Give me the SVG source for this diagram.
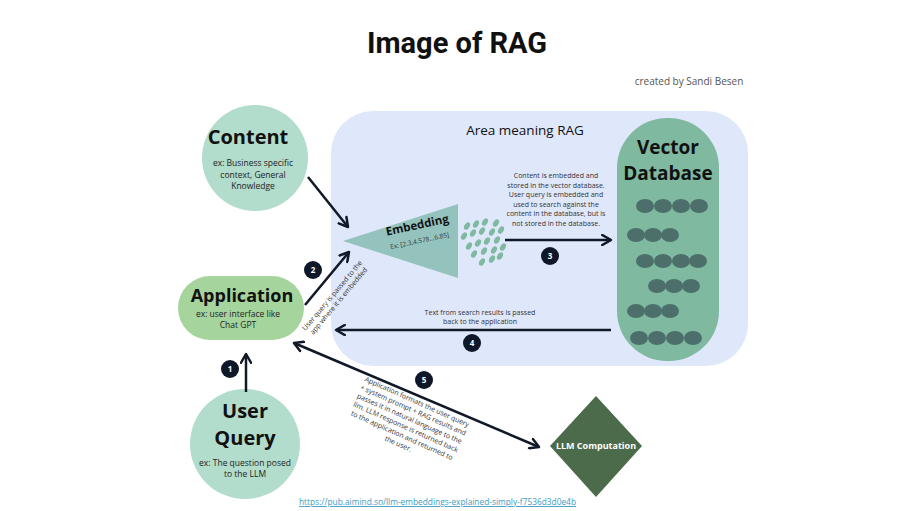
<svg xmlns="http://www.w3.org/2000/svg" width="910" height="511" viewBox="0 0 910 511">
<defs>
<marker id="arr" viewBox="0 0 10 10" refX="8" refY="5" markerWidth="5" markerHeight="5" orient="auto-start-reverse" markerUnits="strokeWidth">
<path d="M1,1 L8,5 L1,9" fill="none" stroke="#111827" stroke-width="2" stroke-linecap="round" stroke-linejoin="round"/>
</marker>
<style>
.t{font-family:"Open Sans","Liberation Sans",sans-serif;}
.h{font-family:"Open Sans","Liberation Sans",sans-serif;font-weight:700;fill:#111;}
.s{font-family:"Open Sans","Liberation Sans",sans-serif;font-size:8.5px;fill:#222;text-anchor:middle;}
.n{font-family:"Open Sans","Liberation Sans",sans-serif;font-size:7px;fill:#333;text-anchor:middle;}
.num{fill:#0f1828;}
.numt{font-family:"Open Sans","Liberation Sans",sans-serif;font-size:8px;font-weight:700;fill:#fff;text-anchor:middle;}
.line{stroke:#111827;stroke-width:2.5;fill:none;}
.dot{fill:#4d6f6b;}
.edot{fill:#7fb9a0;}
</style>
</defs>
<rect width="910" height="511" fill="#ffffff"/>
<text x="457" y="53" text-anchor="middle" font-family="Roboto,'Liberation Sans',sans-serif" font-weight="700" font-size="29" fill="#111">Image of RAG</text>
<text x="689" y="85" text-anchor="middle" class="t" font-size="10" fill="#555">created by Sandi Besen</text>

<g id="area">
<rect x="331" y="111" width="417" height="255" rx="42" fill="#dfe7fa"/>
<text x="525" y="135" text-anchor="middle" class="t" font-size="13.5" fill="#111">Area meaning RAG</text>
</g>

<g id="content">
<circle cx="255" cy="158" r="53" fill="#b2dccb"/>
<text x="248" y="144" text-anchor="middle" class="h" font-size="20">Content</text>
<text class="s" x="253" y="166">ex: Business specific<tspan x="253" dy="11.5">context, General</tspan><tspan x="253" dy="11.5">Knowledge</tspan></text>
</g>

<g id="application">
<rect x="178" y="276" width="126" height="64" rx="32" fill="#a6d49d"/>
<text x="242" y="302" text-anchor="middle" class="h" font-size="18">Application</text>
<text class="s" x="238" y="317">ex: user interface like<tspan x="238" dy="11">Chat GPT</tspan></text>
</g>

<g id="user-query">
<circle cx="245" cy="444" r="55" fill="#b2dccb"/>
<text x="245" y="418" text-anchor="middle" class="h" font-size="20">User</text>
<text x="245" y="445" text-anchor="middle" class="h" font-size="20">Query</text>
<text class="s" x="245" y="466">ex: The question posed<tspan x="245" dy="11">to the LLM</tspan></text>
</g>

<g id="embedding">
<polygon points="343,241 458,204 458,278" fill="#94c3be"/>
<text transform="translate(418,229) rotate(-12)" text-anchor="middle" class="h" font-size="11.5" fill="#1a2a30">Embedding</text>
<text transform="translate(420,243) rotate(-12)" text-anchor="middle" class="t" font-size="6.5" fill="#333">Ex: [2.3,4.578...6.85]</text>
<g>
<ellipse class="edot" cx="467" cy="226" rx="2.6" ry="4" transform="rotate(30 467 226)"/>
<ellipse class="edot" cx="476" cy="224" rx="2.6" ry="4" transform="rotate(30 476 224)"/>
<ellipse class="edot" cx="485" cy="222" rx="2.6" ry="4" transform="rotate(30 485 222)"/>
<ellipse class="edot" cx="496" cy="223" rx="2.6" ry="4" transform="rotate(30 496 223)"/>
<ellipse class="edot" cx="464" cy="236" rx="2.6" ry="4" transform="rotate(30 464 236)"/>
<ellipse class="edot" cx="473" cy="233" rx="2.6" ry="4" transform="rotate(30 473 233)"/>
<ellipse class="edot" cx="482" cy="231" rx="2.6" ry="4" transform="rotate(30 482 231)"/>
<ellipse class="edot" cx="492" cy="232" rx="2.6" ry="4" transform="rotate(30 492 232)"/>
<ellipse class="edot" cx="501" cy="230" rx="2.6" ry="4" transform="rotate(30 501 230)"/>
<ellipse class="edot" cx="469" cy="246" rx="2.6" ry="4" transform="rotate(30 469 246)"/>
<ellipse class="edot" cx="478" cy="243" rx="2.6" ry="4" transform="rotate(30 478 243)"/>
<ellipse class="edot" cx="487" cy="241" rx="2.6" ry="4" transform="rotate(30 487 241)"/>
<ellipse class="edot" cx="497" cy="240" rx="2.6" ry="4" transform="rotate(30 497 240)"/>
<ellipse class="edot" cx="474" cy="254" rx="2.6" ry="4" transform="rotate(30 474 254)"/>
<ellipse class="edot" cx="484" cy="251" rx="2.6" ry="4" transform="rotate(30 484 251)"/>
<ellipse class="edot" cx="494" cy="250" rx="2.6" ry="4" transform="rotate(30 494 250)"/>
<ellipse class="edot" cx="503" cy="247" rx="2.6" ry="4" transform="rotate(30 503 247)"/>
<ellipse class="edot" cx="482" cy="262" rx="2.6" ry="4" transform="rotate(30 482 262)"/>
<ellipse class="edot" cx="492" cy="259" rx="2.6" ry="4" transform="rotate(30 492 259)"/>
<ellipse class="edot" cx="500" cy="256" rx="2.6" ry="4" transform="rotate(30 500 256)"/>
</g>
</g>

<g id="vector-database">
<rect x="617" y="118" width="102" height="243" rx="50" fill="#7fb9a0"/>
<text x="668" y="154" text-anchor="middle" class="h" font-size="19" fill="#14202c">Vector</text>
<text x="668" y="180" text-anchor="middle" class="h" font-size="19" fill="#14202c">Database</text>
<g>
<ellipse class="dot" cx="645" cy="206" rx="9" ry="7"/><ellipse class="dot" cx="663" cy="206" rx="9" ry="7"/><ellipse class="dot" cx="681" cy="206" rx="9" ry="7"/><ellipse class="dot" cx="699" cy="206" rx="9" ry="7"/>
<ellipse class="dot" cx="636" cy="235" rx="9" ry="7"/><ellipse class="dot" cx="653" cy="235" rx="9" ry="7"/><ellipse class="dot" cx="670" cy="235" rx="9" ry="7"/>
<ellipse class="dot" cx="645" cy="261" rx="9" ry="7"/><ellipse class="dot" cx="663" cy="261" rx="9" ry="7"/><ellipse class="dot" cx="681" cy="261" rx="9" ry="7"/><ellipse class="dot" cx="698" cy="261" rx="9" ry="7"/>
<ellipse class="dot" cx="657" cy="286" rx="9" ry="7"/><ellipse class="dot" cx="674" cy="286" rx="9" ry="7"/><ellipse class="dot" cx="691" cy="286" rx="9" ry="7"/>
<ellipse class="dot" cx="636" cy="311" rx="9" ry="7"/><ellipse class="dot" cx="653" cy="311" rx="9" ry="7"/><ellipse class="dot" cx="670" cy="311" rx="9" ry="7"/>
<ellipse class="dot" cx="639" cy="338" rx="9" ry="7"/><ellipse class="dot" cx="657" cy="338" rx="9" ry="7"/><ellipse class="dot" cx="675" cy="338" rx="9" ry="7"/><ellipse class="dot" cx="693" cy="338" rx="9" ry="7"/>
</g>
</g>

<g id="llm-computation">
<polygon points="596,396 642,446 596,497 550,446" fill="#4b6b4b"/>
<text x="596" y="449" text-anchor="middle" class="t" font-weight="700" font-size="9" fill="#fff">LLM Computation</text>
</g>

<g id="connectors">
<line class="line" x1="308" y1="177" x2="348" y2="227" marker-end="url(#arr)"/>
<line class="line" x1="305" y1="305" x2="349" y2="252" marker-end="url(#arr)"/>
<line class="line" x1="505" y1="240" x2="611" y2="240" marker-end="url(#arr)"/>
<line class="line" x1="611" y1="330" x2="336" y2="330" marker-end="url(#arr)"/>
<line class="line" x1="246" y1="392" x2="246" y2="354" marker-end="url(#arr)"/>
<line class="line" x1="294" y1="343" x2="539" y2="447" marker-start="url(#arr)" marker-end="url(#arr)"/>
</g>

<g id="labels">
<circle class="num" cx="230" cy="369" r="9"/><text class="numt" x="230" y="372">1</text>
<circle class="num" cx="313" cy="270" r="9"/><text class="numt" x="313" y="273">2</text>
<circle class="num" cx="550" cy="256" r="9"/><text class="numt" x="550" y="259">3</text>
<circle class="num" cx="472" cy="343" r="9"/><text class="numt" x="472" y="346">4</text>
<circle class="num" cx="424" cy="380" r="9"/><text class="numt" x="424" y="383">5</text>

<text class="n" x="556" y="178">Content is  embedded and<tspan x="556" dy="9.5">stored in the vector database.</tspan><tspan x="556" dy="9.5">User query is embedded and</tspan><tspan x="556" dy="9.5">used to search against the</tspan><tspan x="556" dy="9.5">content in the database, but is</tspan><tspan x="556" dy="9.5">not stored in the database.</tspan></text>

<text class="n" x="480" y="315">Text from search results is passed<tspan x="480" dy="9">back to the application</tspan></text>

<text class="n" transform="translate(334,297) rotate(-50)">User query is passed to the<tspan x="0" dy="8.5">app where it is embedded</tspan></text>

<text class="n" transform="translate(416,404) rotate(24)">Application formats the user query<tspan x="0" dy="9.2">+ system prompt + RAG results and</tspan><tspan x="0" dy="9.2">passes it in natural language to the</tspan><tspan x="0" dy="9.2">llm. LLM response is returned back</tspan><tspan x="0" dy="9.2">to the application and returned to</tspan><tspan x="0" dy="9.2">the user.</tspan></text>
</g>

<text x="299" y="505" class="t" font-size="9" fill="#3a9cc0" text-decoration="underline" textLength="277" lengthAdjust="spacingAndGlyphs">https://pub.aimind.so/llm-embeddings-explained-simply-f7536d3d0e4b</text>
</svg>
